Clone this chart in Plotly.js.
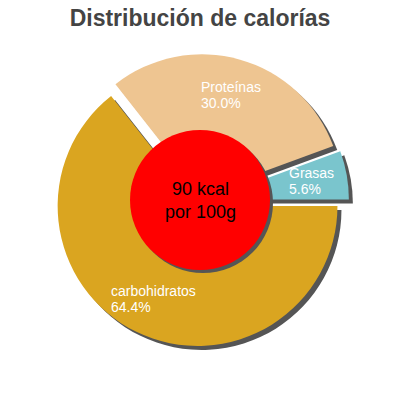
<!DOCTYPE html>
<html>
<head>
<meta charset="utf-8">
<script src="https://cdn.plot.ly/plotly-3.0.1.min.js"></script>
<style>
  html, body { margin: 0; padding: 0; background: #fff; }
  #chart { width: 400px; height: 400px; }
</style>
</head>
<body>
<div id="chart"></div>
<script>
// slices, counterclockwise from 3 o'clock
const labels = ['Grasas', 'Proteínas', 'carbohidratos'];
const values = [5.6, 30.0, 64.4];
const colors = ['#7AC5CD', '#EEC591', '#DAA520'];
const pulls  = [0.065, 0.05, 0.04];
const centerText = ['90 kcal', 'por 100g'];

const W = 400, H = 400;
const FONT = 'Liberation Sans, Arial, sans-serif';
const LABEL_SIZE = 14;

// pie geometry in px (top-left origin)
const cx = 200, cy = 201, box = 298, shadowOff = 4;
const maxPull = Math.max(...pulls);
const r = box / (2 + 2 * maxPull);
const total = values.reduce((a, b) => a + b, 0);

function dom(x0, y0) {
  return {
    x: [(x0 - box / 2) / W, (x0 + box / 2) / W],
    y: [(H - y0 - box / 2) / H, (H - y0 + box / 2) / H],
  };
}

// plotly's counterclockwise pie ends the first slice at the rotation angle
const pieBase = {
  type: 'pie', values, labels, sort: false,
  direction: 'counterclockwise', rotation: 90 - 360 * values[0] / total,
  pull: pulls, textinfo: 'none', hoverinfo: 'skip',
  showlegend: false,
};

const traces = [
  { ...pieBase, domain: dom(cx + shadowOff, cy + shadowOff),
    marker: { colors: values.map(() => '#555555'), line: { width: 0 } } },
  { ...pieBase, domain: dom(cx, cy),
    marker: { colors, line: { width: 0 } } },
];

const ctx = document.createElement('canvas').getContext('2d');
ctx.font = `${LABEL_SIZE}px ${FONT}`;

// slice labels at 3/4 radius along the mid angle of each (pulled) slice,
// two left-aligned lines set close together
const annotations = [];
let acc = 0;
values.forEach((v, i) => {
  const mid = (acc + v / 2) / total * 2 * Math.PI;
  acc += v;
  const pr = r * pulls[i] + r * 0.74;
  const x = cx + pr * Math.cos(mid);
  const y = cy - pr * Math.sin(mid);
  const lines = [labels[i], v.toFixed(1) + '%'];
  const left = x - Math.max(...lines.map(s => ctx.measureText(s).width)) / 2;
  lines.forEach((s, j) => {
    annotations.push({
      xref: 'paper', yref: 'paper', x: left / W, y: 1 - (y + (j - 0.5) * 16) / H,
      xanchor: 'left', yanchor: 'middle', showarrow: false, text: s,
      borderpad: 0,
      font: { family: FONT, size: LABEL_SIZE, color: '#FFFFFF' },
    });
  });
});

annotations.push({
  xref: 'paper', yref: 'paper', x: 0.5, y: 1 - 201 / H,
  xanchor: 'center', yanchor: 'middle', showarrow: false,
  text: centerText.join('<br>'),
  font: { family: FONT, size: 18, color: '#000000' },
});

const cr = 70, ccx = 200, ccy = 200;
const shapes = [
  { type: 'circle', xref: 'paper', yref: 'paper', layer: 'above',
    x0: (ccx - cr + 3) / W, x1: (ccx + cr + 3) / W,
    y0: 1 - (ccy + cr + 3) / H, y1: 1 - (ccy - cr + 3) / H,
    fillcolor: '#555555', line: { width: 0 } },
  { type: 'circle', xref: 'paper', yref: 'paper', layer: 'above',
    x0: (ccx - cr) / W, x1: (ccx + cr) / W,
    y0: 1 - (ccy + cr) / H, y1: 1 - (ccy - cr) / H,
    fillcolor: '#FF0000', line: { width: 0 } },
];

Plotly.newPlot('chart', traces, {
  width: W, height: H,
  paper_bgcolor: '#FFFFFF',
  margin: { l: 0, r: 0, t: 0, b: 0 },
  title: {
    text: '<b>Distribución de calorías</b>',
    x: 0.5, xanchor: 'center', y: 1 - 18 / H, yanchor: 'middle',
    font: { family: FONT, size: 23, color: '#444444' },
  },
  annotations, shapes,
}, { displayModeBar: false, staticPlot: true });
</script>
</body>
</html>
